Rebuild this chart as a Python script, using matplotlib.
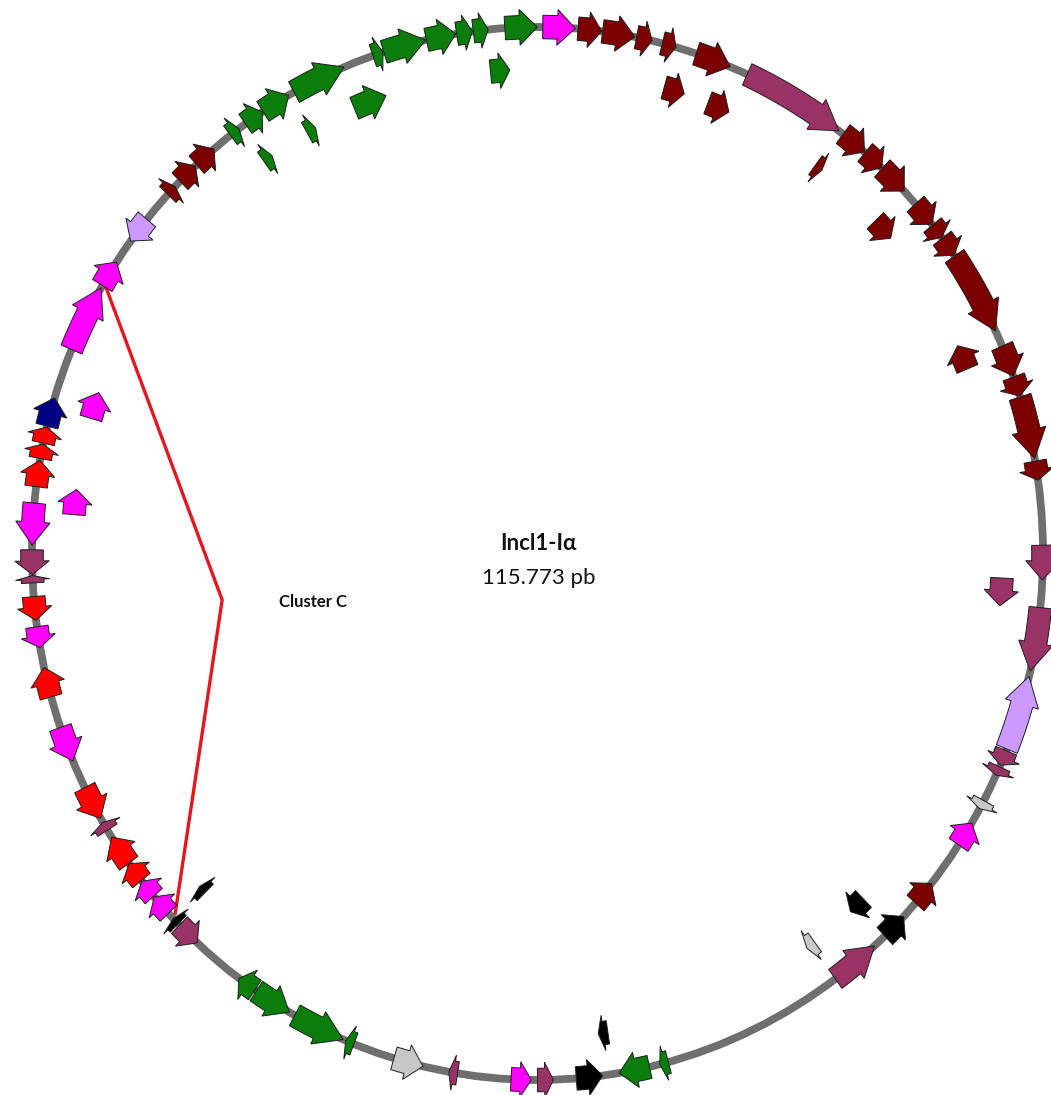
import numpy as np
import matplotlib
matplotlib.use("Agg")
import matplotlib.pyplot as plt
from matplotlib.patches import Polygon, Ellipse

PLASMID_LEN = 115773
PLASMID_NAME = "Incl1-Iα"
PLASMID_SIZE_LABEL = "115.773 pb"

# ORFs: start / end (bp), strand (+1 clockwise, -1 anticlockwise),
# track (0 = backbone, 1 = inner ring) and functional group
gene_start = [
    193, 1479, 2380, 3634, 4599, 5885, 7879, 11963, 12992, 13828,
    15565, 16530, 17109, 17880, 21482, 22640, 23380, 25695, 28654, 30841,
    33285, 36018, 36629, 37948, 38848, 41421, 42964, 44444, 53062, 53770,
    55506, 57307, 58111, 60813, 62099, 64736, 65154, 67341, 68820, 71490,
    72454, 72969, 73773, 74480, 75240, 76635, 77118, 79368, 81748, 83517,
    84482, 85800, 86090, 87119, 89177, 90174, 90721, 91332, 94162, 96670,
    98535, 100658, 101301, 102137, 103745, 104421, 105193, 106512, 109662, 110080,
    111690, 112814, 113425, 114583,
    # inner ring
    108312, 113907, 106222, 104195, 92039, 88309, 72551, 55088, 46116, 43575,
    29876, 20775, 14986, 11802, 6914, 5081,
]
gene_end = [
    1383, 2348, 3570, 4213, 5113, 7204, 11770, 12960, 13796, 14954,
    16498, 17076, 17848, 20903, 22608, 23347, 25599, 26370, 29876, 33092,
    35954, 36565, 36951, 38269, 39749, 42321, 43929, 46277, 53384, 54895,
    56471, 57886, 58851, 61134, 63193, 65058, 67116, 68756, 69528, 72390,
    72711, 73741, 74448, 75220, 76345, 76957, 78339, 80623, 82810, 84257,
    85318, 86057, 86958, 88598, 90110, 90688, 91300, 92361, 96574, 97635,
    99500, 101043, 102073, 102973, 104131, 105160, 106286, 108537, 110048, 111660,
    112782, 113393, 113972, 115770,
    # inner ring
    109662, 114679, 106608, 104584, 93068, 89273, 72872, 55474, 46502, 44283,
    30937, 21740, 15887, 12124, 7815, 5917,
]
gene_strand = [
    1, 1, 1, 1, 1, 1, 1, 1, 1, 1,
    1, 1, 1, 1, 1, 1, 1, 1, 1, 1,
    -1, 1, 1, 1, -1, -1, -1, -1, 1, 1,
    -1, -1, -1, 1, -1, 1, -1, -1, 1, -1,
    1, 1, 1, 1, 1, 1, -1, -1, 1, -1,
    -1, 1, -1, -1, 1, 1, 1, 1, 1, 1,
    -1, 1, 1, 1, 1, 1, 1, 1, 1, 1,
    1, 1, 1, 1,
    1, 1, 1, 1, 1, 1, 1, 1, 1, 1,
    1, -1, 1, 1, 1, 1,
]
gene_track = [0] * 74 + [1] * 16
gene_group = [
    "magenta", "maroon", "maroon", "maroon", "maroon", "maroon", "plum", "maroon", "maroon", "maroon",
    "maroon", "maroon", "maroon", "maroon", "maroon", "maroon", "maroon", "maroon", "plum", "plum",
    "lavender", "plum", "plum", "silver", "magenta", "maroon", "black", "plum", "green", "green",
    "black", "plum", "magenta", "plum", "silver", "green", "green", "green", "green", "plum",
    "black", "magenta", "magenta", "red", "red", "plum", "red", "magenta", "red", "magenta",
    "red", "plum", "plum", "magenta", "red", "red", "red", "navy", "magenta", "magenta",
    "lavender", "maroon", "maroon", "maroon", "green", "green", "green", "green", "green", "green",
    "green", "green", "green", "green",
    "green", "green", "green", "green", "magenta", "magenta", "black", "black", "silver", "black",
    "plum", "maroon", "maroon", "maroon", "maroon", "maroon",
]

# region highlighted as Cluster C (bp)
cluster_c_start = 72800
cluster_c_end = 96650

group_colors = {
    "green": "#0b7d0b",
    "maroon": "#7c0000",
    "magenta": "#ff00ff",
    "plum": "#993366",
    "lavender": "#cc99ff",
    "silver": "#c8c8c8",
    "black": "#000000",
    "red": "#ff0000",
    "navy": "#000080",
}

# map geometry (pixel-based data coordinates)
W, H = 1051, 1095
CX, CY = 537.5, 553.5
RX, RY = 505.5, 526.5
R_REF = 515.0
TRACK_RHO = [1.0, 0.92]
BODY_HW = 11.5 / R_REF
HEAD_HW = 17.5 / R_REF
HEAD_LEN = 28.0 / R_REF


def to_xy(theta_deg, rho):
    t = np.radians(theta_deg)
    return CX + RX * rho * np.sin(t), CY - RY * rho * np.cos(t)


def arc(a0, a1, rho, n=24):
    th = np.linspace(a0, a1, n)
    x, y = to_xy(th, rho)
    return list(zip(x, y))


def gene_polygon(start, end, strand, rho):
    a0 = start / PLASMID_LEN * 360.0
    a1 = end / PLASMID_LEN * 360.0
    length = a1 - a0
    head_deg = np.degrees(HEAD_LEN / rho)
    h = min(head_deg, 0.55 * length)
    if strand >= 0:
        tail, base, tip = a0, a1 - h, a1
    else:
        tail, base, tip = a1, a0 + h, a0
    pts = arc(tail, base, rho + BODY_HW)
    pts.append(to_xy(base, rho + HEAD_HW))
    pts.append(to_xy(tip, rho))
    pts.append(to_xy(base, rho - HEAD_HW))
    pts += arc(base, tail, rho - BODY_HW)
    return pts


fig = plt.figure(figsize=(W / 100, H / 100), dpi=100)
ax = fig.add_axes([0, 0, 1, 1])
ax.set_xlim(0, W)
ax.set_ylim(H, 0)
ax.axis("off")

# backbone
ax.add_patch(Ellipse((CX, CY), 2 * RX, 2 * RY, fill=False,
                     ec="#6f6f6f", lw=5.6, zorder=1))

# Cluster C bracket
ca = cluster_c_start / PLASMID_LEN * 360.0
cb = cluster_c_end / PLASMID_LEN * 360.0
p_start = to_xy(cb, 0.99)
p_apex = to_xy((ca + cb) / 2 - 1.5, 0.63)
p_end = to_xy(ca, 0.99)
ax.plot([p_start[0], p_apex[0], p_end[0]], [p_start[1], p_apex[1], p_end[1]],
        color="#e5161d", lw=2.4, zorder=1.5, solid_joinstyle="miter")

# ORFs
for s, e, st, tr, g in zip(gene_start, gene_end, gene_strand, gene_track, gene_group):
    poly = Polygon(gene_polygon(s, e, st, TRACK_RHO[tr]), closed=True,
                   fc=group_colors[g], ec="#1e1e1e", lw=0.7, zorder=3)
    ax.add_patch(poly)

fonts = ["Lato", "Noto Sans", "DejaVu Sans"]
ax.text(CX + 1, CY - 10, PLASMID_NAME, ha="center", va="center",
        fontsize=16, fontweight="bold", family=fonts, color="#111111")
ax.text(CX + 1, CY + 25, PLASMID_SIZE_LABEL, ha="center", va="center",
        fontsize=16, family=fonts, color="#111111")
ax.text(p_apex[0] + 57, p_apex[1] + 2, "Cluster C", ha="left", va="center",
        fontsize=12, fontweight="bold", family=fonts, color="#111111")

fig.savefig("out.png", dpi=100, facecolor="white")
